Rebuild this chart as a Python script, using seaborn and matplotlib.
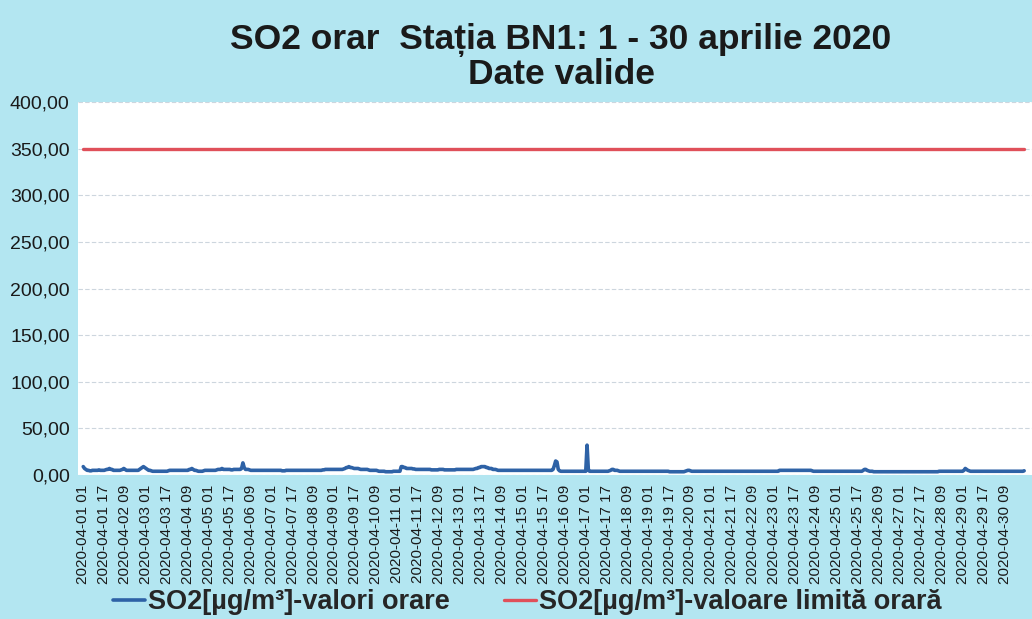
import numpy as np
import pandas as pd
import matplotlib
matplotlib.use("Agg")
import matplotlib.pyplot as plt
import seaborn as sns

# hourly SO2 values, one row per day (1-30 April 2020, hours 01..24)
so2_days = [
    [9, 7, 6, 5, 5, 4.5, 4.5, 5, 5, 5, 5, 5, 5.5, 5, 5, 5, 5, 5.5, 6, 6, 7, 6, 6, 5],
    [5, 5, 5, 5, 5, 5.5, 6, 7, 6, 5, 5, 5, 5, 5, 5, 5, 5, 5, 5, 6, 7, 8, 9, 8],
    [7, 6, 5, 5, 4.5, 4, 4, 4, 4, 4, 4, 4, 4, 4, 4, 4, 4, 4.5, 5, 5, 5, 5, 5, 5],
    [5, 5, 5, 5, 5, 5, 5, 5, 5, 6, 6, 7, 6, 5, 5, 4.5, 4, 4, 4, 4, 4.5, 5, 5, 5],
    [5, 5, 5, 5, 5, 5, 5.5, 6, 6, 6, 7, 6, 6, 6, 6, 6, 6, 5.5, 5.5, 6, 6, 6, 6, 6],
    [6, 7, 13, 8, 6, 6, 6, 5.5, 5, 5, 5, 5, 5, 5, 5, 5, 5, 5, 5, 5, 5, 5, 5, 5],
    [5, 5, 5, 5, 5, 5, 5, 5, 4.5, 4.5, 4.5, 5, 5, 5, 5, 5, 5, 5, 5, 5, 5, 5, 5, 5],
    [5, 5, 5, 5, 5, 5, 5, 5, 5, 5, 5, 5, 5, 5, 5, 5.5, 5.5, 6, 6, 6, 6, 6, 6, 6],
    [6, 6, 6, 6, 6, 6, 6, 6.5, 7, 8, 8, 9, 8, 8, 7.5, 7, 7, 7, 7, 6.5, 6, 6, 6, 6],
    [6, 6, 5.5, 5, 5, 5, 5, 5, 5, 4.5, 4, 4, 4, 4, 4, 3.5, 3.5, 3.5, 3.5, 3.5, 3.5, 4, 4, 4],
    [4, 4, 4, 9, 9, 8, 8, 7, 7, 7, 7, 7, 6.5, 6.5, 6, 6, 6, 6, 6, 6, 6, 6, 6, 6],
    [6, 6, 5.5, 5.5, 5.5, 5.5, 5.5, 5.5, 6, 6, 6, 6, 5.5, 5.5, 5.5, 5.5, 5.5, 5.5, 5.5, 5.5, 5.5, 6, 6, 6],
    [6, 6, 6, 6, 6, 6, 6, 6, 6, 6, 6, 6.5, 7, 7, 8, 8, 9, 9, 9, 9, 8, 8, 7, 7],
    [7, 6, 6, 6, 5.5, 5, 5, 5, 5, 5, 5, 5, 5, 5, 5, 5, 5, 5, 5, 5, 5, 5, 5, 5],
    [5, 5, 5, 5, 5, 5, 5, 5, 5, 5, 5, 5, 5, 5, 5, 5, 5, 5, 5, 5, 5, 5, 5, 6],
    [10, 15, 14, 6, 4.5, 4, 4, 4, 4, 4, 4, 4, 4, 4, 4, 4, 4, 4, 4, 4, 4, 4, 4, 4],
    [4, 32, 5, 4, 4, 4, 4, 4, 4, 4, 4, 4, 4, 4, 4, 4, 4, 4, 4.5, 5, 6, 6, 5, 5],
    [5, 4.5, 4, 4, 4, 4, 4, 4, 4, 4, 4, 4, 4, 4, 4, 4, 4, 4, 4, 4, 4, 4, 4, 4],
    [4, 4, 4, 4, 4, 4, 4, 4, 4, 4, 4, 4, 4, 4, 4, 4, 3.5, 3.5, 3.5, 3.5, 3.5, 3.5, 3.5, 3.5],
    [3.5, 3.5, 3.5, 3.5, 4, 4.5, 5, 5, 4.5, 4, 4, 4, 4, 4, 4, 4, 4, 4, 4, 4, 4, 4, 4, 4],
    [4, 4, 4, 4, 4, 4, 4, 4, 4, 4, 4, 4, 4, 4, 4, 4, 4, 4, 4, 4, 4, 4, 4, 4],
    [4, 4, 4, 4, 4, 4, 4, 4, 4, 4, 4, 4, 4, 4, 4, 4, 4, 4, 4, 4, 4, 4, 4, 4],
    [4, 4, 4, 4, 5, 5, 5, 5, 5, 5, 5, 5, 5, 5, 5, 5, 5, 5, 5, 5, 5, 5, 5, 5],
    [5, 5, 5, 5, 5, 4.5, 4, 4, 4, 4, 4, 4, 4, 4, 4, 4, 4, 4, 4, 4, 4, 4, 4, 4],
    [4, 4, 4, 4, 4, 4, 4, 4, 4, 4, 4, 4, 4, 4, 4, 4, 4, 4, 4, 4, 5, 6, 6, 5],
    [4.5, 4, 4, 4, 3.5, 3.5, 3.5, 3.5, 3.5, 3.5, 3.5, 3.5, 3.5, 3.5, 3.5, 3.5, 3.5, 3.5, 3.5, 3.5, 3.5, 3.5, 3.5, 3.5],
    [3.5, 3.5, 3.5, 3.5, 3.5, 3.5, 3.5, 3.5, 3.5, 3.5, 3.5, 3.5, 3.5, 3.5, 3.5, 3.5, 3.5, 3.5, 3.5, 3.5, 3.5, 3.5, 3.5, 3.5],
    [3.5, 3.5, 3.5, 3.5, 3.5, 3.5, 4, 4, 4, 4, 4, 4, 4, 4, 4, 4, 4, 4, 4, 4, 4, 4, 4, 4],
    [4, 5, 7, 6, 5, 4.5, 4, 4, 4, 4, 4, 4, 4, 4, 4, 4, 4, 4, 4, 4, 4, 4, 4, 4],
    [4, 4, 4, 4, 4, 4, 4, 4, 4, 4, 4, 4, 4, 4, 4, 4, 4, 4, 4, 4, 4, 4, 4, 4.5],
]
limit_value = 350
start_time = "2020-04-01 01:00"
tick_every = 16  # hours between x labels

so2_values = [v for day in so2_days for v in day]
times = pd.date_range(start_time, periods=len(so2_values), freq="h")
df = pd.DataFrame({
    "hour": np.arange(len(so2_values)),
    "so2": so2_values,
    "limit": [limit_value] * len(so2_values),
})

sns.set_style("white")
plt.rcParams["font.family"] = ["Liberation Sans", "DejaVu Sans"]

bg = "#b3e6f1"
fig = plt.figure(figsize=(10.32, 6.19), dpi=100, facecolor=bg)
ax = fig.add_axes([78 / 1032, 1 - 475 / 619, 954 / 1032, 373 / 619])
ax.set_facecolor("white")

sns.lineplot(data=df, x="hour", y="limit", ax=ax, color="#e0505a", linewidth=2.4,
             label="SO2[µg/m³]-valoare limită orară", zorder=3)
sns.lineplot(data=df, x="hour", y="so2", ax=ax, color="#2e62a6", linewidth=2.6,
             label="SO2[µg/m³]-valori orare", zorder=4)

ax.set_ylim(0, 400)
ax.set_xlim(-4, 725)
ax.set_yticks(range(0, 401, 50))
ax.set_yticklabels([f"{v},00" for v in range(0, 401, 50)], fontsize=14, color="#1a1a1a")
ax.yaxis.grid(True, color="#cdd6de", linewidth=0.8, linestyle=(0, (4, 2)))
ax.set_axisbelow(True)

tick_pos = df["hour"][::tick_every]
ax.set_xticks(tick_pos)
ax.set_xticklabels([t.strftime("%Y-%m-%d %H") for t in times[::tick_every]],
                   rotation=90, fontsize=11, color="#1a1a1a")
ax.set_xticks(df["hour"], minor=True)
ax.tick_params(axis="x", which="both", length=3, color="#aabbd0", pad=4)
ax.tick_params(axis="y", length=0, pad=6)
ax.set_xlabel("")
ax.set_ylabel("")
for s in ax.spines.values():
    s.set_visible(False)

fig.text(561 / 1032, 1 - 40 / 619, "SO2 orar  Stația BN1: 1 - 30 aprilie 2020",
         ha="center", va="center", fontsize=25.5, fontweight="bold", color="#1a1a1a")
fig.text(561 / 1032, 1 - 74 / 619, "Date valide",
         ha="center", va="center", fontsize=25.5, fontweight="bold", color="#1a1a1a")

handles, labels = ax.get_legend_handles_labels()
fig.legend(handles[::-1], labels[::-1], loc="center", bbox_to_anchor=(527 / 1032, 1 - 602 / 619),
           ncol=2, frameon=False, handlelength=1.2, handletextpad=0.1, columnspacing=2.0,
           prop={"size": 19.5, "weight": "bold"})
ax.get_legend().remove()

fig.savefig("out.png", dpi=100, facecolor=bg)
